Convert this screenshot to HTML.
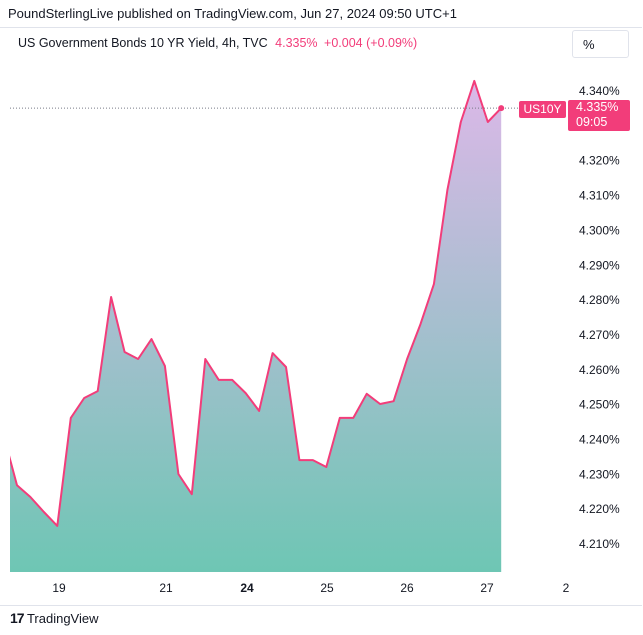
<!DOCTYPE html>
<html><head><meta charset="utf-8">
<style>
body{margin:0;width:643px;height:635px;background:#fff;font-family:"Liberation Sans",sans-serif;overflow:hidden;position:relative}
.t{position:absolute;white-space:nowrap}
</style></head><body>
<div class="t" style="left:8px;top:6px;font-size:13px;color:#131722">PoundSterlingLive published on TradingView.com, Jun 27, 2024 09:50 UTC+1</div>
<div style="position:absolute;left:0;top:27px;width:642px;height:577px;border-top:1px solid #e0e3eb;border-bottom:1px solid #e0e3eb"></div>
<div class="t" style="left:18px;top:36px;font-size:12.5px;color:#131722">US Government Bonds 10 YR Yield, 4h, TVC <span style="color:#f23d7a;margin-left:4px">4.335%</span> <span style="color:#f23d7a;margin-left:3px">+0.004 (+0.09%)</span></div>
<div class="t" style="left:572px;top:30px;width:57px;height:28px;border:1px solid #e0e3eb;border-radius:3px;font-size:13px;color:#131722;box-sizing:border-box;padding:6px 10px">%</div>
<svg id="c" width="643" height="635" style="position:absolute;left:0;top:0">
<defs><linearGradient id="g" x1="0" y1="0" x2="0" y2="1"><stop offset="0" stop-color="#dcb8e8"/><stop offset="1" stop-color="#6ec6b4"/></linearGradient>
<clipPath id="cp"><rect x="10" y="58" width="557" height="514"/></clipPath></defs>
<g id="plot" clip-path="url(#cp)"></g>
<g id="ax"></g>
</svg>
<div class="t" style="left:519px;top:101px;width:47px;height:17px;background:#f23d7a;color:#fff;font-size:12px;text-align:center;line-height:17px;border-radius:2px">US10Y</div>
<div class="t" style="left:568px;top:100px;width:62px;height:31px;background:#f23d7a;color:#fff;font-size:12.5px;line-height:15px;padding-left:8px;box-sizing:border-box;border-radius:2px">4.335%<br>09:05</div>
<div class="t" style="left:10px;top:610px;font-size:13px;color:#131722"><b style="font-size:14px;letter-spacing:-1px">17</b> TradingView</div>
<script>
const values=[4.2413,4.2269,4.2235,4.2192,4.2152,4.2462,4.2519,4.2539,4.2809,4.2651,4.2631,4.2688,4.2611,4.2301,4.2243,4.2631,4.2571,4.2571,4.2533,4.2482,4.2648,4.2608,4.2341,4.2341,4.2321,4.2462,4.2462,4.2531,4.2502,4.2510,4.2631,4.2731,4.2846,4.3116,4.3311,4.3429,4.3311,4.3351];
const yTicks=[4.21,4.22,4.23,4.24,4.25,4.26,4.27,4.28,4.29,4.30,4.31,4.32,4.34];
const xLabels=["19","21","24","25","26","27","2"];
const xLabelPos=[59,166,247,327,407,487,566];
const NS="http://www.w3.org/2000/svg";
const y=v=>91+(4.34-v)*3485;
const x=i=>3.55+13.45*i;
function mk(t,a,p){const e=document.createElementNS(NS,t);for(const k in a)e.setAttribute(k,a[k]);p.appendChild(e);return e;}
const plot=document.getElementById('plot'),ax=document.getElementById('ax');
let d=values.map((v,i)=>(i?'L':'M')+x(i).toFixed(1)+','+y(v).toFixed(1)).join('');
const area=mk('path',{d:d+'L'+x(values.length-1)+',572L'+x(0)+',572Z',fill:'url(#g)'},plot);


const ln=mk('path',{d:d,fill:'none',stroke:'#f23d7a','stroke-width':2,'stroke-linejoin':'round'},plot);


const last=values[values.length-1];
const dl=mk('line',{x1:10,x2:520,y1:y(last),y2:y(last),stroke:'#787b86','stroke-dasharray':'1 2'},ax);


const dot=mk('circle',{cx:x(values.length-1),cy:y(last),r:3,fill:'#f23d7a'},ax);


yTicks.forEach(v=>{const t=mk('text',{x:579,y:y(v)+4,'font-size':12,fill:'#131722','font-family':'Liberation Sans'},ax);t.textContent=v.toFixed(3)+'%';

});
xLabels.forEach((l,i)=>{const t=mk('text',{x:xLabelPos[i],y:592,'font-size':12,fill:'#131722','text-anchor':'middle','font-family':'Liberation Sans','font-weight':l=='24'?'bold':'normal'},ax);t.textContent=l;

});
</script>
</body></html>
